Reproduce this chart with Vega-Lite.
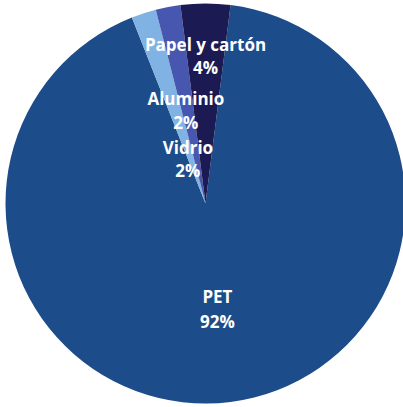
{
  "$schema": "https://vega.github.io/schema/vega-lite/v6.json",
  "width": 395,
  "height": 407,
  "autosize": "none",
  "padding": {"left": 8, "top": 0, "right": 0, "bottom": 0},
  "background": "white",
  "config": {"view": {"stroke": null}},
  "data": {"values": [
    {"name": "PET", "value": 92, "ord": 1},
    {"name": "Vidrio", "value": 2, "ord": 2},
    {"name": "Aluminio", "value": 2, "ord": 3},
    {"name": "Papel y cartón", "value": 4, "ord": 4}
  ]},
  "transform": [
    {"stack": "value", "groupby": [], "sort": [{"field": "ord"}], "as": ["v0", "v1"]},
    {"calculate": "(datum.v0 + datum.v1) / 2", "as": "mid"},
    {"calculate": "datum.name + '\\n' + datum.value + '%'", "as": "label"}
  ],
  "layer": [
    {
      "mark": {"type": "arc", "outerRadius": 200},
      "encoding": {
        "theta": {"field": "v0", "type": "quantitative", "scale": {"domain": [0, 100], "range": [0.1257, 6.4089]}},
        "theta2": {"field": "v1"},
        "color": {"field": "name", "type": "nominal", "legend": null,
          "scale": {"domain": ["PET", "Vidrio", "Aluminio", "Papel y cartón"], "range": ["#1c4c89", "#80b2e3", "#4756ae", "#1c1a52"]}}
      }
    },
    {
      "transform": [{"filter": "datum.name == 'PET'"}],
      "mark": {"type": "text", "radius": 95, "lineBreak": "\n", "color": "white", "font": "Open Sans", "fontWeight": "bold", "fontSize": 17, "lineHeight": 25},
      "encoding": {"theta": {"field": "mid", "type": "quantitative"}, "text": {"field": "label"}}
    },
    {
      "transform": [{"filter": "datum.name == 'Vidrio'"}],
      "mark": {"type": "text", "radius": 57, "lineBreak": "\n", "color": "white", "font": "Open Sans", "fontWeight": "bold", "fontSize": 17, "lineHeight": 23},
      "encoding": {"theta": {"field": "mid", "type": "quantitative"}, "text": {"field": "label"}}
    },
    {
      "transform": [{"filter": "datum.name == 'Aluminio'"}],
      "mark": {"type": "text", "radius": 105, "lineBreak": "\n", "color": "white", "font": "Open Sans", "fontWeight": "bold", "fontSize": 17, "lineHeight": 24},
      "encoding": {"theta": {"field": "mid", "type": "quantitative"}, "text": {"field": "label"}}
    },
    {
      "transform": [{"filter": "datum.name == 'Papel y cartón'"}],
      "mark": {"type": "text", "radius": 158, "lineBreak": "\n", "color": "white", "font": "Open Sans", "fontWeight": "bold", "fontSize": 17, "lineHeight": 23},
      "encoding": {"theta": {"field": "mid", "type": "quantitative"}, "text": {"field": "label"}}
    }
  ]
}
